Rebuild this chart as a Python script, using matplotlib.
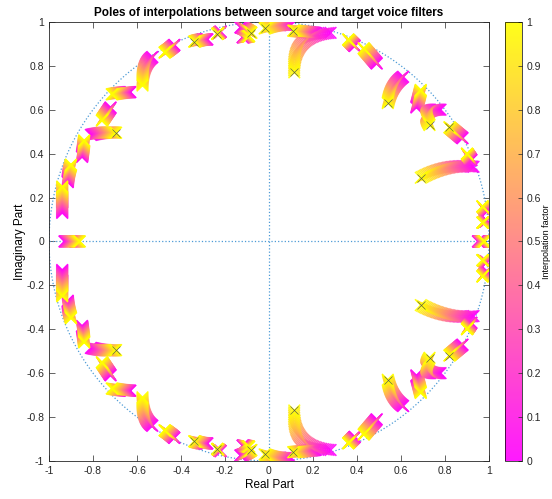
import numpy as np
import matplotlib
matplotlib.use('Agg')
import matplotlib.pyplot as plt

plt.rcParams['font.family'] = ['Liberation Sans', 'DejaVu Sans']

# pole trajectories in the upper half plane (mirrored for conjugates)
# start = pole of source filter (factor 0), mid = pole at factor 0.5, end = target pole (factor 1)
start_re = [0.10, 0.28, 0.21, 0.39, 0.49, 0.61, 0.67, 0.78, 0.88, 0.92, 0.93, 0.99, 0.99,
            -0.94, -0.915, -0.85, -0.81, -0.72, -0.63, -0.53, -0.43, -0.28, -0.22, -0.13, -0.12]
start_im = [0.985, 0.95, 0.95, 0.89, 0.81, 0.75, 0.61, 0.60, 0.47, 0.37, 0.34, 0.135, 0.095,
            0.13, 0.27, 0.385, 0.485, 0.61, 0.68, 0.84, 0.895, 0.92, 0.955, 0.975, 0.93]
mid_re = [0.04, 0.15, 0.16, 0.375, 0.46, 0.565, 0.68, 0.72, 0.85, 0.91, 0.81, 0.98, 0.98,
          -0.94, -0.91, -0.845, -0.75, -0.74, -0.67, -0.565, -0.45, -0.31, -0.228, -0.105, -0.105]
mid_im = [0.985, 0.90, 0.955, 0.905, 0.845, 0.70, 0.65, 0.585, 0.495, 0.385, 0.335, 0.148, 0.09,
          0.19, 0.31, 0.42, 0.495, 0.58, 0.677, 0.79, 0.878, 0.918, 0.95, 0.965, 0.932]
end_re = [-0.02, 0.115, 0.11, 0.36, 0.43, 0.54, 0.69, 0.73, 0.82, 0.90, 0.69, 0.97, 0.97,
          -0.94, -0.90, -0.84, -0.695, -0.76, -0.715, -0.575, -0.475, -0.34, -0.235, -0.08, -0.09]
end_im = [0.97, 0.77, 0.96, 0.92, 0.88, 0.63, 0.69, 0.53, 0.52, 0.40, 0.29, 0.16, 0.085,
          0.25, 0.35, 0.46, 0.495, 0.55, 0.67, 0.71, 0.86, 0.91, 0.945, 0.95, 0.935]
# trajectories that show a black target marker
marked = [0, 1, 2, 5, 7, 8, 10, 16, 21, 22, 23]

# real poles
real_start = [-0.93, 0.95]
real_end = [-0.86, 0.98]

factor = np.linspace(0, 1, 40)

xs, ys, cs = [], [], []
for i in range(len(start_re)):
    p0 = np.array([start_re[i], start_im[i]])
    m = np.array([mid_re[i], mid_im[i]])
    p2 = np.array([end_re[i], end_im[i]])
    c = 2 * m - 0.5 * (p0 + p2)
    t = factor[:, None]
    pts = (1 - t) ** 2 * p0 + 2 * t * (1 - t) * c + t ** 2 * p2
    for sgn in (1, -1):
        xs.append(pts[:, 0]); ys.append(sgn * pts[:, 1]); cs.append(factor)
for a, b in zip(real_start, real_end):
    xs.append(a + (b - a) * factor); ys.append(np.zeros_like(factor)); cs.append(factor)

xs = np.concatenate(xs); ys = np.concatenate(ys); cs = np.concatenate(cs)
order = np.argsort(cs, kind='stable')

fig = plt.figure(figsize=(5.52, 4.99), dpi=100)
ax = fig.add_axes([0.0888, 0.0762, 0.797, 0.880])

blue = '#4d9bd6'
th = np.linspace(0, 2 * np.pi, 400)
ax.plot(np.cos(th), np.sin(th), ':', color=blue, lw=0.9)
ax.plot([-1, 1], [0, 0], ':', color=blue, lw=0.9)
ax.plot([0, 0], [-1, 1], ':', color=blue, lw=0.9)

sc = ax.scatter(xs[order], ys[order], c=cs[order], cmap='spring', vmin=0, vmax=1,
                marker='x', s=70, linewidths=1.1, alpha=0.9, zorder=3)

mx = [end_re[i] for i in marked]
my = [end_im[i] for i in marked]
ax.plot(mx + mx, my + [-v for v in my], 'x', color='#555555', ms=6, mew=0.45, zorder=4)

ax.set_xlim(-1, 1)
ax.set_ylim(-1, 1)
ticks = np.round(np.arange(-1, 1.01, 0.2), 1)
labels = ['0' if abs(v) < 1e-9 else f'{v:g}' for v in ticks]
ax.set_xticks(ticks); ax.set_xticklabels(labels)
ax.set_yticks(ticks); ax.set_yticklabels(labels)
ax.tick_params(direction='in', top=True, right=True, labelsize=7.5, colors='#262626', length=4, width=0.5)
for s in ax.spines.values():
    s.set_color('#262626'); s.set_linewidth(0.6)
ax.set_xlabel('Real Part', fontsize=8.5, labelpad=2)
ax.set_ylabel('Imaginary Part', fontsize=8.5, labelpad=0)
ax.set_title('Poles of interpolations between source and target voice filters',
             fontsize=8.5, fontweight='bold', pad=4)

cax = fig.add_axes([0.915, 0.0762, 0.031, 0.880])
cb = fig.colorbar(sc, cax=cax, ticks=np.arange(0, 1.01, 0.1))
cb.set_ticklabels(['0', '0.1', '0.2', '0.3', '0.4', '0.5', '0.6', '0.7', '0.8', '0.9', '1'])
cb.ax.tick_params(direction='in', labelsize=7.5, colors='#262626', length=3, width=0.5, pad=3)
cb.outline.set_linewidth(0.5)
cb.set_label('Interpolation factor', fontsize=6.5, labelpad=1)

fig.savefig('out.png', dpi=100)
